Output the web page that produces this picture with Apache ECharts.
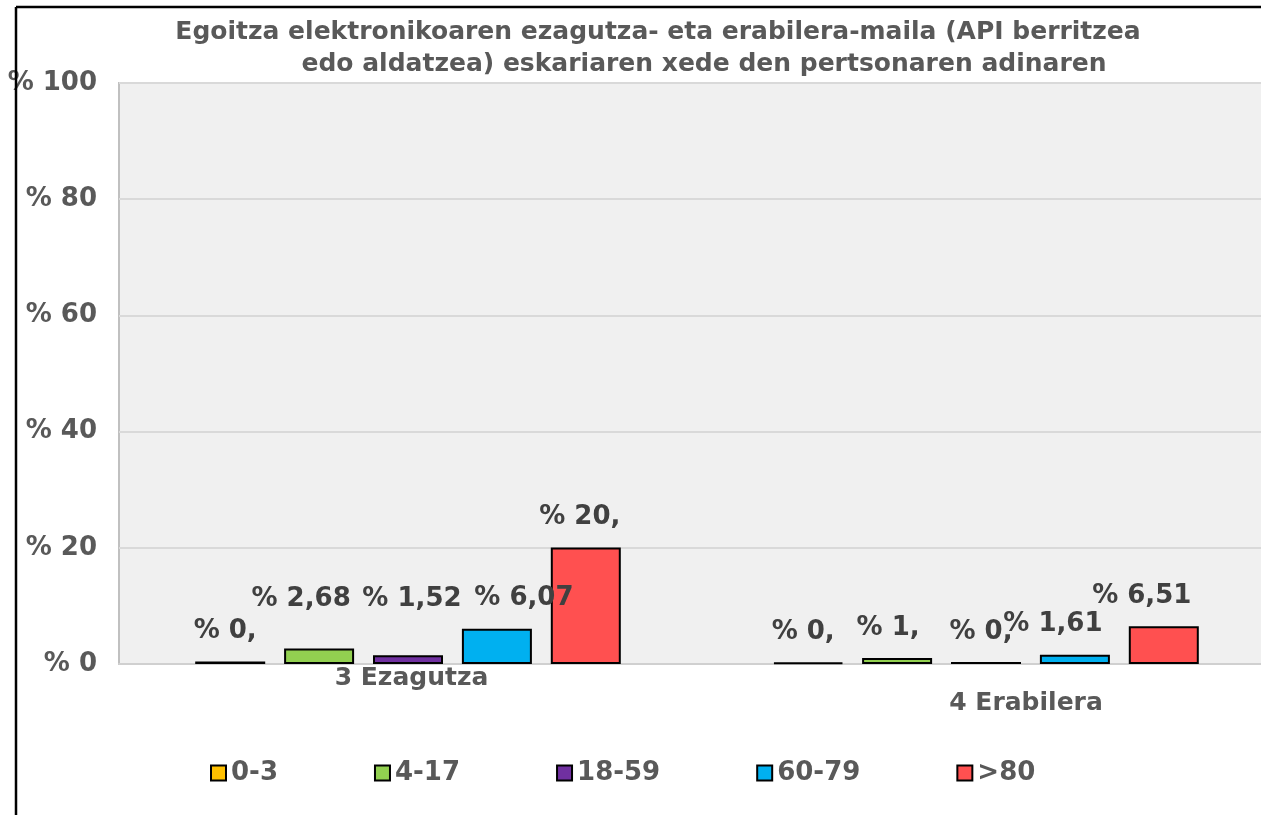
<!DOCTYPE html>
<html>
<head>
<meta charset="utf-8">
<script src="https://cdn.jsdelivr.net/npm/echarts@6/dist/echarts.min.js"></script>
<style>
html,body{margin:0;padding:0;background:#fff;}
#main{width:1261px;height:815px;}
</style>
</head>
<body>
<div id="main"></div>
<script>
var titleLine1 = 'Egoitza elektronikoaren ezagutza- eta erabilera-maila (API berritzea';
var titleLine2 = 'edo aldatzea) eskariaren xede den pertsonaren adinaren';
var categories = ['3 Ezagutza', '4 Erabilera'];
var seriesNames = ['0-3', '4-17', '18-59', '60-79', '>80'];
var values_0_3   = [0.45, 0.25];
var values_4_17  = [2.68, 1.03];
var values_18_59 = [1.52, 0.35];
var values_60_79 = [6.07, 1.61];
var values_80    = [20.05, 6.51];
var labels_0_3   = ['% 0,', '% 0,'];
var labels_4_17  = ['% 2,68', '% 1,'];
var labels_18_59 = ['% 1,52', '% 0,'];
var labels_60_79 = ['% 6,07', '% 1,61'];
var labels_80    = ['% 20,', '% 6,51'];
var yTicks = [0, 20, 40, 60, 80, 100];

var allValues = [values_0_3, values_4_17, values_18_59, values_60_79, values_80];
var allLabels = [labels_0_3, labels_4_17, labels_18_59, labels_60_79, labels_80];
var colors = ['#FFC000', '#92D050', '#7030A0', '#00B0F0', '#FF5050'];
// manual label placements (as in the original)
var labelOffsets = [
  [[-5, 0], [-5, 0]],
  [[-18, -19], [-9, 0]],
  [[4, -26], [-5, 0]],
  [[27, 0], [-22, 0]],
  [[-6, 0], [-22, 0]]
];
var FONT = 'DejaVu Sans';

var series = seriesNames.map(function (name, si) {
  return {
    name: name,
    type: 'bar',
    barWidth: 70,
    barGap: '27%',
    itemStyle: { color: colors[si], borderColor: '#000', borderWidth: 2 },
    label: {
      show: true,
      position: 'top',
      distance: 17,
      fontFamily: FONT,
      fontWeight: 'bold',
      fontSize: 26,
      color: '#404040',
      formatter: function (p) { return allLabels[si][p.dataIndex]; }
    },
    data: allValues[si].map(function (v, ci) {
      return { value: v, label: { offset: labelOffsets[si][ci] } };
    })
  };
});

var chart = echarts.init(document.getElementById('main'), null, { renderer: 'canvas' });
chart.setOption({
  backgroundColor: '#ffffff',
  animation: false,
  title: {
    text: '{a|' + titleLine1 + '}\n{b|' + titleLine2 + '}',
    left: 653,
    top: 11,
    textAlign: 'center',
    textStyle: {
      rich: {
        a: { fontFamily: FONT, fontWeight: 'bold', fontSize: 25, color: '#595959', lineHeight: 32 },
        b: { fontFamily: FONT, fontWeight: 'bold', fontSize: 25, color: '#595959', lineHeight: 32, padding: [0, 0, 0, 92] }
      }
    }
  },
  legend: {
    data: seriesNames,
    left: 210,
    top: 760,
    padding: 0,
    itemGap: 96,
    itemWidth: 15,
    itemHeight: 15,
    icon: 'rect',
    itemStyle: { borderColor: '#000', borderWidth: 2 },
    textStyle: { fontFamily: FONT, fontWeight: 'bold', fontSize: 26, color: '#595959' }
  },
  grid: {
    left: 119, top: 83, width: 1156, height: 581,
    show: true, backgroundColor: '#f0f0f0', borderColor: '#c0c0c0', borderWidth: 2,
    containLabel: false,
    outerBoundsMode: 'none'
  },
  xAxis: {
    type: 'category',
    data: categories,
    axisLine: { show: true, lineStyle: { color: '#d0d0d0', width: 2 } },
    axisTick: { show: false },
    axisLabel: {
      interval: 0,
      margin: 2,
      formatter: function (v, i) { return i === 0 ? '{a|' + v + '}' : '{b|' + v + '}'; },
      rich: {
        a: { fontFamily: FONT, fontWeight: 'bold', fontSize: 25, color: '#595959', padding: [0, 0, 0, 7] },
        b: { fontFamily: FONT, fontWeight: 'bold', fontSize: 25, color: '#595959', padding: [25, 0, 0, 80] }
      }
    }
  },
  yAxis: {
    type: 'value',
    min: yTicks[0],
    max: yTicks[yTicks.length - 1],
    interval: 20,
    axisLine: { show: false },
    axisTick: { show: false },
    splitLine: { lineStyle: { color: '#d9d9d9', width: 2 } },
    axisLabel: {
      margin: 22,
      fontFamily: FONT, fontWeight: 'bold', fontSize: 26, color: '#595959',
      formatter: function (v) { return '% ' + v; }
    }
  },
  graphic: [
    { type: 'line', z: 100, silent: true, shape: { x1: 16, y1: 7, x2: 1261, y2: 7 }, style: { stroke: '#000', lineWidth: 2.5 } },
    { type: 'line', z: 100, silent: true, shape: { x1: 16, y1: 7, x2: 16, y2: 815 }, style: { stroke: '#000', lineWidth: 2.5 } }
  ],
  series: series
});
</script>
</body>
</html>
